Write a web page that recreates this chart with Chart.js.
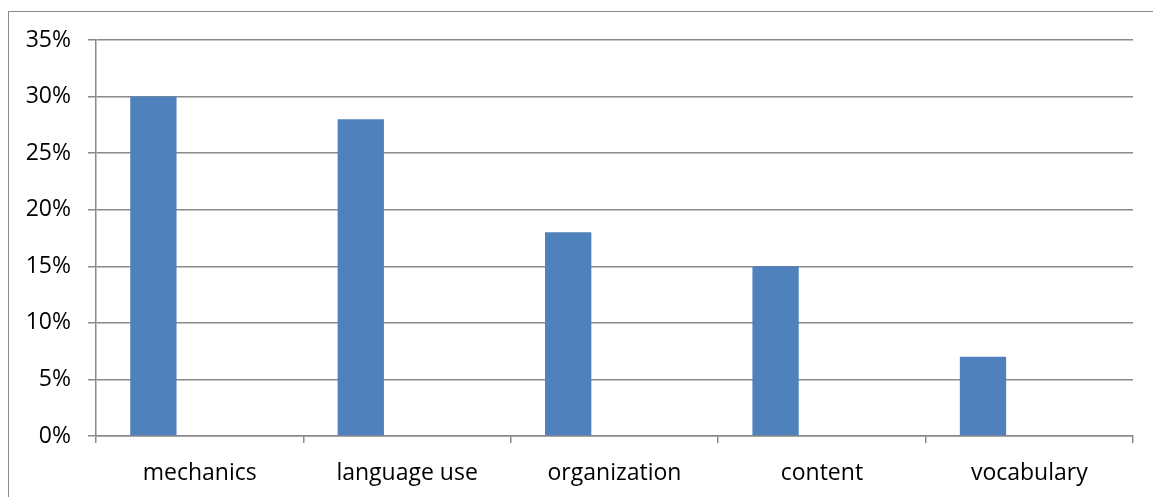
<!DOCTYPE html>
<html>
<head>
<meta charset="utf-8">
<script src="https://cdn.jsdelivr.net/npm/chart.js@4"></script>
<style>
  html, body { margin: 0; padding: 0; background: #fff; overflow: hidden; }
  #frame { position: absolute; left: 8px; top: 11px; width: 2000px; height: 1000px; border: 1.5px solid #8a8a8a; }
  #wrap { position: absolute; left: 0; top: 0; width: 1153px; height: 497px; }
</style>
</head>
<body>
<div id="frame"></div>
<div id="wrap"><canvas id="myChart" width="1153" height="497"></canvas></div>
<script>
// values
const categories = ["mechanics", "language use", "organization", "content", "vocabulary"];
const shares = [30, 28, 18, 15, 7];
// the original has two more (empty) series, so the bar sits on the left of each slot
const emptySeries = [null, null, null, null, null];
const yTicks = [0, 5, 10, 15, 20, 25, 30, 35];

const gridGrey = "#898989";

const data = {
  labels: categories,
  datasets: [
    { label: "Series1", data: shares, backgroundColor: "#4F81BD" },
    { label: "Series2", data: emptySeries, backgroundColor: "#C0504D" },
    { label: "Series3", data: emptySeries, backgroundColor: "#9BBB59" },
  ],
};

const config = {
  type: "bar",
  data: data,
  options: {
    responsive: false,
    animation: false,
    devicePixelRatio: 1,
    categoryPercentage: 0.67,
    barPercentage: 1,
    layout: { padding: { top: 40, right: 20, left: 0, bottom: 0 } },
    plugins: { legend: { display: false }, tooltip: { enabled: false } },
    scales: {
      x: {
        grid: {
          offset: true,
          drawOnChartArea: false,
          drawTicks: true,
          tickLength: 7,
          color: gridGrey,
          lineWidth: 1.5,
        },
        border: { color: gridGrey, width: 1.5 },
        ticks: {
          color: "#000",
          padding: 17,
          font: { family: "'Open Sans'", size: 23 },
          maxRotation: 0,
        },
        afterFit: (scale) => { scale.height = 61; },
      },
      y: {
        min: 0,
        max: 35,
        afterBuildTicks: (scale) => {
          scale.ticks = yTicks.map((v) => ({ value: v }));
        },
        grid: {
          color: gridGrey,
          lineWidth: 1.5,
          drawTicks: true,
          tickLength: 8,
        },
        border: { color: gridGrey, width: 1.5 },
        ticks: {
          color: "#000",
          padding: 17,
          font: { family: "'Open Sans'", size: 23 },
          callback: (v) => v + "%",
        },
        afterFit: (scale) => { scale.width = 96; },
      },
    },
  },
};

const myChart = new Chart(document.getElementById("myChart"), config);
</script>
</body>
</html>
